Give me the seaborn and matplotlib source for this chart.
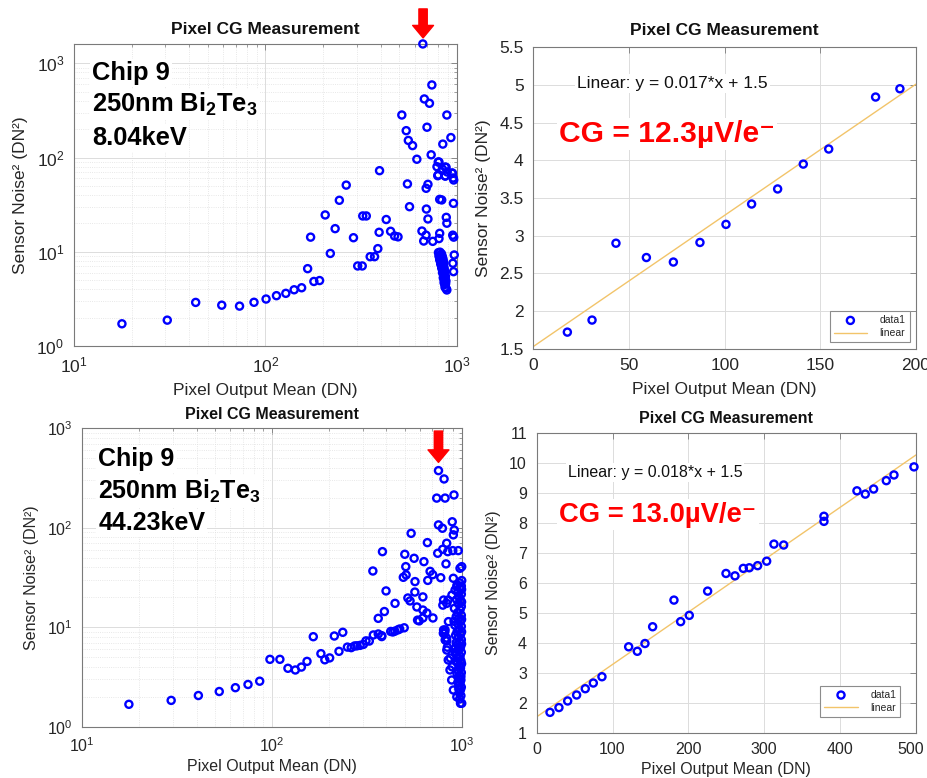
import numpy as np
import matplotlib
matplotlib.use("Agg")
import matplotlib.pyplot as plt
import matplotlib.transforms as mtransforms
import seaborn as sns
from matplotlib.ticker import FuncFormatter

sns.set_theme(style="white")
plt.rcParams["font.family"] = ["Liberation Sans", "DejaVu Sans"]
plt.rcParams["mathtext.fontset"] = "custom"
plt.rcParams["mathtext.rm"] = "Liberation Sans"
plt.rcParams["mathtext.bf"] = "Liberation Sans:bold"
plt.rcParams["axes.unicode_minus"] = False

# --- 8.04 keV: points used for the linear fit (also shown on the log plot)
fit1_x = [17.8, 30.7, 43.2, 59.1, 73.2, 87.1, 100.7, 114.1, 127.7, 141.1, 154.4, 178.9, 191.6]
fit1_y = [1.72, 1.88, 2.90, 2.71, 2.65, 2.91, 3.15, 3.42, 3.62, 3.95, 4.15, 4.84, 4.95]

# --- 8.04 keV: remaining points of the log plot
ex1_x = [166, 172, 205, 218, 231, 243, 264, 288, 303, 320, 322, 336, 352, 371, 386, 392, 394, 427, 450, 472, 492,
         515, 543, 557, 586, 551, 565, 617, 663, 675, 718, 739, 697, 733, 656, 670, 689, 692, 705, 690, 705, 747,
         786, 805, 793, 812, 832, 843, 877, 869, 885, 929, 946, 961, 958, 879, 885, 812, 805, 950, 961, 967, 951, 959,
         800, 815, 830, 805, 820, 838, 812, 828, 842, 822, 836, 848, 832, 846, 855, 840, 852, 862, 848, 858, 866,
         856, 864, 872, 866, 876, 885, 825, 845, 850, 860, 870, 875,
         798, 838, 867, 889, 944, 955, 798, 867]
ex1_y = [6.62, 14.3, 24.6, 9.6, 17.6, 35.2, 51, 14.1, 7.07, 7.07, 24, 24, 8.87, 8.87, 10.8, 16.1, 72.6, 22, 16.5, 14.7, 14.4,
         283, 193, 152, 134, 52.5, 30.1, 96, 1607, 419, 377, 590, 210, 107, 16.6, 13.0, 15.0, 28.4, 22.3, 47.2, 52, 12.9,
         80, 89.7, 64.2, 36, 35.5, 139, 78.7, 63.7, 283, 163, 68, 57.8, 32.7, 23.2, 20.1, 15.7, 13.8, 15, 14.3, 9.25, 7.55, 6.15,
         9.8, 9.9, 9.5, 9.0, 8.6, 8.9, 8.2, 7.9, 8.1, 7.4, 7.1, 7.4, 6.7, 6.4, 6.8, 6.0, 5.7, 6.0, 5.3, 5.0, 5.2,
         4.7, 4.5, 4.6, 4.2, 4.1, 3.93, 9.2, 8.4, 7.8, 6.4, 5.5, 4.9,
         89.8, 75.7, 79.4, 70.3, 68.7, 60.7, 65.4, 63.8]

# --- 44.23 keV: points used for the linear fit
fit2_x = [17.6, 29.4, 40.9, 52.7, 64.1, 74.7, 86.1, 121.3, 132.7, 142.8, 152.9, 181.0, 189.8, 201.2, 225.4, 249.6,
          261.4, 272.4, 280.3, 291.3, 303.2, 312.8, 325.6, 378.7, 378.7, 422.2, 433.2, 444.2, 460.9, 471.0, 497.4]
fit2_y = [1.68, 1.84, 2.06, 2.26, 2.47, 2.66, 2.87, 3.87, 3.72, 3.98, 4.54, 5.43, 4.71, 4.92, 5.73, 6.32,
          6.24, 6.49, 6.51, 6.58, 6.73, 7.30, 7.27, 8.23, 8.06, 9.08, 8.97, 9.14, 9.42, 9.61, 9.88]

# --- 44.23 keV: remaining points of the log plot
ex2_x = [97.5, 110, 165, 213, 236, 342, 363, 363, 391, 340, 382, 399, 445, 492, 501, 507, 509, 520, 534, 541,
         561, 567, 566, 580, 585, 596, 624, 624, 624, 632, 655, 659, 662, 681, 703, 705, 747, 754, 807, 738,
         817, 910, 754, 791, 891, 913, 903, 794, 844, 897, 959, 833, 826, 775, 979, 903, 795, 847, 888, 922,
         945, 813, 832, 840, 870, 890, 849, 867, 885, 903, 942, 1000, 802, 834, 802, 818, 834, 942, 1000, 817,
         800, 834, 851]
ex2_y = [4.76, 4.76, 8.04, 8.17, 8.9, 8.37, 8.56, 12.3, 14.4, 36.8, 57.6, 23.2, 17.4, 31.8, 54.2, 40.7, 33.6, 19.7, 18.4, 88,
         49.4, 28.8, 22.6, 16.0, 11.8, 11.6, 20.2, 14.9, 12.4, 45.7, 13.9, 71, 29.6, 36.5, 33.8, 12.4, 55.5, 376, 310, 199,
         199, 214, 107, 99, 115, 95, 85, 60.9, 57.6, 59, 59, 70, 43.4, 31.5, 39.2, 31.1, 16.7, 18.8, 21.1, 23.7,
         26.6, 8.9, 7.8, 6.3, 4.9, 4.0, 4.69, 3.72, 2.95, 2.34, 2.0, 1.72, 18.8, 17.4, 9.4, 7.45, 5.9, 25.6, 40.7, 9.4,
         8.7, 7.3, 11.4]
col2_x = [985, 975, 990, 970, 985, 995, 965, 980, 990, 960, 975, 995, 955, 985, 970, 948, 990, 960, 980, 940,
          995, 965, 985, 950, 975, 995, 960, 985, 945, 970, 995, 955, 985, 965, 995, 950, 980, 995, 960, 985,
          970, 995, 955, 985, 995, 975, 1000, 990, 998, 998, 998, 998, 998, 998, 930, 925, 935, 928, 920, 935,
          915, 940, 925, 910, 945, 955, 965, 950]
col2_y = [1.72, 1.9, 2.05, 2.2, 2.35, 2.5, 2.6, 2.75, 2.95, 3.1, 3.3, 3.5, 3.7, 3.9, 4.15, 4.4, 4.6, 4.85, 5.1, 5.3,
          5.6, 5.9, 6.3, 6.7, 7.1, 7.5, 8.0, 8.5, 9.0, 9.6, 10.2, 10.8, 11.5, 12.3, 13.2, 14.0, 15.0, 16.2, 17.2, 18.5,
          20.0, 21.5, 22.5, 24.2, 26.0, 28.0, 29.5, 3.2, 4.3, 6.8, 9.0, 12, 18, 24, 4.6, 5.6, 7.0, 8.3, 10.5, 12.8,
          15.5, 19, 6.2, 11.5, 3.4, 2.8, 2.4, 5.0]

arrow_x = [665, 754]
energies = ["8.04keV", "44.23keV"]
fit_labels = ["Linear: y = 0.017*x + 1.5", "Linear: y = 0.018*x + 1.5"]
cg_labels = ["CG = 12.3µV/e⁻", "CG = 13.0µV/e⁻"]

BLUE = "#0000ff"
FITC = "#f2c46a"
SPINE = "#7a7a7a"
YLAB = "Sensor Noise² (DN²)"
XLAB = "Pixel Output Mean (DN)"


def style_axes(ax, fs, log):
    for s in ax.spines.values():
        s.set_color(SPINE)
        s.set_linewidth(0.8)
    ax.tick_params(which="both", direction="in", top=True, right=True, color=SPINE,
                   labelsize=fs, labelcolor="#262626", pad=7)
    ax.tick_params(which="major", length=4, width=0.6)
    ax.tick_params(which="minor", length=2, width=0.5)
    ax.grid(True, which="major", color="#dcdcdc", lw=0.7)
    if log:
        ax.grid(True, which="minor", color="#e0e0e0", lw=0.6, ls=":")
    ax.set_axisbelow(True)


def scatter(ax, x, y, label=None):
    sns.scatterplot(x=x, y=y, ax=ax, marker="o", s=26, facecolor="none", edgecolor=BLUE,
                    linewidth=1.7, clip_on=False, zorder=3, label=label, legend=False)


fig = plt.figure(figsize=(9.27, 7.78), dpi=100)
ax1 = fig.add_axes([0.0798, 0.5553, 0.4132, 0.3882])
ax2 = fig.add_axes([0.5753, 0.5518, 0.4128, 0.3874])
ax3 = fig.add_axes([0.0888, 0.0659, 0.4093, 0.3835])
ax4 = fig.add_axes([0.5789, 0.0582, 0.4092, 0.3848])

log_sets = [(ax1, fit1_x + ex1_x, fit1_y + ex1_y, (1, 1607), 12.5, 7.5, 5,
             [0.881, 0.776, 0.666], 0.047, 18.4, (1.02, 1.116)),
            (ax3, fit2_x + ex2_x + col2_x, fit2_y + ex2_y + col2_y, (1, 1000), 11.5, 6.7, 3,
             [0.875, 0.765, 0.659], 0.042, 18, (0.886, 0.991))]

for i, (ax, xs, ys, ylim, fs, pad, xpad, ty, tx, tfs, arr) in enumerate(log_sets):
    ax.set_xscale("log")
    ax.set_yscale("log")
    scatter(ax, xs, ys)
    ax.set_xlim(10, 1000)
    ax.set_ylim(*ylim)
    style_axes(ax, fs, True)
    ax.set_title("Pixel CG Measurement", fontsize=fs, fontweight="bold", pad=pad, color="#111111")
    ax.set_xlabel(XLAB, fontsize=fs, color="#262626", labelpad=xpad)
    ax.set_ylabel(YLAB, fontsize=fs, color="#262626", labelpad=6)
    lines = ["Chip 9", r"250nm Bi$_\mathbf{2}$Te$_\mathbf{3}$", energies[i]]
    for t, yy in zip(lines, ty):
        ax.text(tx, yy, t, transform=ax.transAxes, fontsize=tfs, fontweight="bold", va="baseline",
                ha="left", color="black", zorder=4,
                bbox=dict(facecolor="white", edgecolor="none", pad=1.5))
    ax.annotate("", xy=(arrow_x[i], arr[0]), xycoords=("data", "axes fraction"),
                xytext=(arrow_x[i], arr[1]), textcoords=("data", "axes fraction"),
                arrowprops=dict(arrowstyle="simple,head_length=0.75,head_width=1.25,tail_width=0.5",
                                color="red", shrinkA=0, shrinkB=0),
                annotation_clip=False, zorder=5)

lin_sets = [(ax2, fit1_x, fit1_y, 200, (1.5, 5.5), np.arange(1.5, 5.51, 0.5), np.arange(0, 201, 50),
             12.5, 8.9, 6.5, (22.8, 4.956), 12.6, (13.4, 4.247), 21.6, 0.6),
            (ax4, fit2_x, fit2_y, 500, (1, 11), np.arange(1, 11.1, 1), np.arange(0, 501, 100),
             11.5, 7.6, 3, (40.9, 9.55), 11.5, (29.8, 8.05), 19.7, 1.5)]

for i, (ax, xs, ys, xmax, ylim, yt, xt, fs, pad, xpad, fpos, ffs, cpos, cfs, bpad) in enumerate(lin_sets):
    scatter(ax, xs, ys, label="data1")
    k, b = np.polyfit(xs, ys, 1)
    line_x = np.array([0, xmax])
    sns.lineplot(x=line_x, y=k * line_x + b, ax=ax, color=FITC, linewidth=1.0, label="linear", legend=False)
    ax.set_xlim(0, xmax)
    ax.set_ylim(*ylim)
    ax.set_xticks(xt)
    ax.set_yticks(yt)
    ax.yaxis.set_major_formatter(FuncFormatter(lambda v, p: "%g" % v))
    style_axes(ax, fs, False)
    ax.set_title("Pixel CG Measurement", fontsize=fs, fontweight="bold", pad=pad, color="#111111")
    ax.set_xlabel(XLAB, fontsize=fs, color="#262626", labelpad=xpad)
    ax.set_ylabel(YLAB, fontsize=fs, color="#262626", labelpad=6)
    ax.text(fpos[0], fpos[1], fit_labels[i], fontsize=ffs, va="baseline", ha="left", color="#111111",
            zorder=4, bbox=dict(facecolor="white", edgecolor="none", pad=1.5))
    ax.text(cpos[0], cpos[1], cg_labels[i], fontsize=cfs, fontweight="bold", va="baseline", ha="left",
            color="#ff0000", zorder=4, bbox=dict(facecolor="white", edgecolor="none", pad=1.5))
    leg = ax.legend(loc="lower right", fontsize=7.5, frameon=True, fancybox=False, edgecolor="#8c8c8c",
                    framealpha=1, borderaxespad=bpad, handlelength=3.2, borderpad=0.4,
                    labelspacing=0.3, handletextpad=1.2)
    leg.get_frame().set_linewidth(0.8)

# the last x tick label of the lower right panel sits a little left so it stays inside the picture
last = ax4.get_xticklabels()[-1]
last.set_transform(last.get_transform() + mtransforms.ScaledTranslation(-5 / 100, 0, fig.dpi_scale_trans))

fig.savefig("out.png", dpi=100)
